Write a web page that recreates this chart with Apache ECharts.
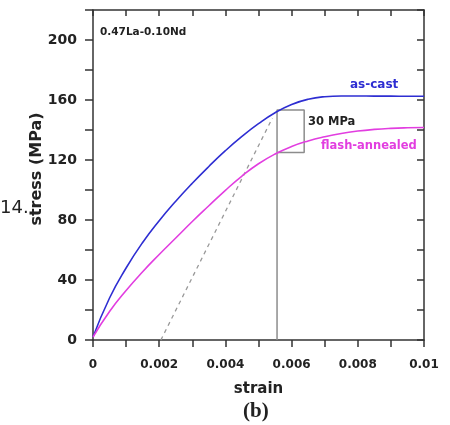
<!DOCTYPE html>
<html><head><meta charset="utf-8">
<script src="https://cdn.jsdelivr.net/npm/echarts@6/dist/echarts.min.js"></script>
<style>html,body{margin:0;padding:0;background:#fff;}#c{width:450px;height:425px;}</style>
</head><body><div id="c"></div>
<script>
// ---- data ----
const strain = [0,0.0005,0.001,0.0015,0.002,0.0025,0.003,0.0035,0.004,0.0045,0.005,0.0055,0.006,0.0065,0.007,0.0075,0.008,0.0085,0.009,0.0095,0.01];
const asCastStress = [2,28,48,65,79.5,92.5,104.5,115.7,126.2,135.7,144.2,151.5,157,160.5,162.2,162.7,162.7,162.6,162.6,162.5,162.5];
const flashStress = [2,19,33,45.5,57,68,79,89.5,99.8,109.3,117.5,124,129,132.7,135.5,137.7,139.3,140.4,141.1,141.5,141.7];
const offsetStrain = [0.00205, 0.00542];
const offsetStress = [0, 148];
const boxStrain = [0.00556, 0.00556, 0.00638, 0.00638, 0.00556];
const boxStress = [0, 153.3, 153.3, 125, 125];
const xTickLabels = ['0','0.002','0.004','0.006','0.008','0.01'];
const yTickLabels = ['0','40','80','120','160','200'];

const zip = (a,b)=>a.map((v,i)=>[v,b[i]]);
const axisColor = '#333';
const tickFont = {fontFamily:'DejaVu Sans', fontWeight:'bold', color:'#222'};

const chart = echarts.init(document.getElementById('c'), null, {renderer:'canvas'});
const baseX = {type:'value', min:0, max:0.01, interval:0.001,
  axisLine:{show:true, onZero:false, lineStyle:{color:axisColor,width:1.5}},
  splitLine:{show:false}};
const baseY = {type:'value', min:0, max:220, interval:20,
  axisLine:{show:true, onZero:false, lineStyle:{color:axisColor,width:1.5}},
  splitLine:{show:false}};
chart.setOption({
  animation:false,
  grid:{left:93, right:26, top:10, bottom:85},
  xAxis:[
    Object.assign({}, baseX, {position:'bottom',
      axisTick:{inside:false,length:7,lineStyle:{color:axisColor,width:1.5}},
      axisLabel:Object.assign({fontSize:12, margin:19, formatter:function(v){
        const k = Math.round(v*1000); return k%2===0 ? xTickLabels[k/2] : '';}}, tickFont),
      name:'strain', nameLocation:'middle', nameGap:42,
      nameTextStyle:{fontFamily:'DejaVu Sans', fontWeight:'bold', fontSize:15, color:'#222'}}),
    Object.assign({}, baseX, {position:'top',
      axisTick:{inside:true,length:6,lineStyle:{color:axisColor,width:1.5}},
      axisLabel:{show:false}})
  ],
  yAxis:[
    Object.assign({}, baseY, {position:'left',
      axisTick:{inside:false,length:8,lineStyle:{color:axisColor,width:1.5}},
      axisLabel:Object.assign({fontSize:14, margin:16, formatter:function(v){
        const k = Math.round(v); return (k%40===0 && k<=200) ? yTickLabels[k/40] : '';}}, tickFont)}),
    Object.assign({}, baseY, {position:'right',
      axisTick:{inside:true,length:7,lineStyle:{color:axisColor,width:1.5}},
      axisLabel:{show:false}})
  ],
  series:[
    {type:'line', name:'box', data:zip(boxStrain, boxStress), symbol:'none',
     lineStyle:{color:'#8c8c8c', width:1.5}, z:1},
    {type:'line', name:'offset', data:zip(offsetStrain, offsetStress), symbol:'none',
     lineStyle:{color:'#999', width:1.3, type:[4,4]}, z:1},
    {type:'line', name:'as-cast', data:zip(strain, asCastStress), symbol:'none', smooth:0.5,
     lineStyle:{color:'#2e2ed2', width:1.6}, z:3},
    {type:'line', name:'flash-annealed', data:zip(strain, flashStress), symbol:'none', smooth:0.5,
     lineStyle:{color:'#e23ee0', width:1.6}, z:3}
  ],
  graphic:[
    {type:'text', left:100, top:27, style:{text:'0.47La-0.10Nd', font:'bold 10.5px "DejaVu Sans"', fill:'#222'}},
    {type:'text', left:350, top:79, style:{text:'as-cast', font:'bold 12px "DejaVu Sans"', fill:'#2e2ed2'}},
    {type:'text', left:308, top:116, style:{text:'30 MPa', font:'bold 11.5px "DejaVu Sans"', fill:'#222'}},
    {type:'text', left:321, top:140, style:{text:'flash-annealed', font:'bold 11.5px "DejaVu Sans"', fill:'#e23ee0'}},
    {type:'text', left:0, top:199, style:{text:'14.', font:'18px "DejaVu Sans"', fill:'#222'}},
    {type:'text', x:37, y:169, rotation:Math.PI/2,
     style:{text:'stress (MPa)', font:'bold 16px "DejaVu Sans"', fill:'#222', textAlign:'center', textVerticalAlign:'middle'}},
    {type:'text', left:243, top:401, style:{text:'(b)', font:'bold 21px "Liberation Serif"', fill:'#222'}}
  ]
});
</script></body></html>
